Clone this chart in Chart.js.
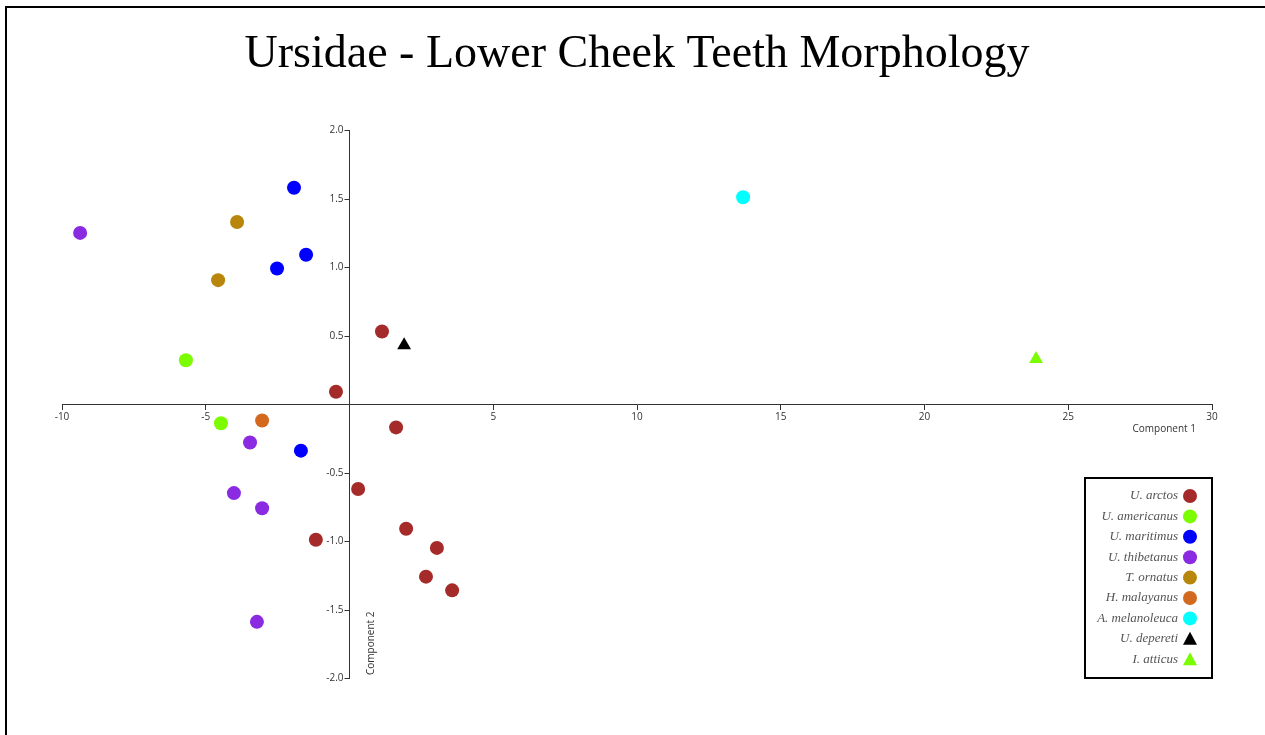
<!DOCTYPE html>
<html>
<head>
<meta charset="utf-8">
<title>Ursidae - Lower Cheek Teeth Morphology</title>
<script src="https://cdn.jsdelivr.net/npm/chart.js@4"></script>
<style>
  html, body { margin: 0; padding: 0; background: #fff; overflow: hidden; }
  #frame { position: absolute; left: 5px; top: 6px; width: 1400px; height: 900px; border: 2px solid #000; }
  #wrap { position: absolute; left: 0; top: 0; width: 1265px; height: 735px; }
</style>
</head>
<body>
<div id="frame"></div>
<div id="wrap"><canvas id="pca" width="1265" height="735"></canvas></div>
<script>
// Component 1 / Component 2 scores per taxon
const arctos = [[1.13, 0.53], [-0.47, 0.09], [1.62, -0.17], [0.30, -0.62], [-1.17, -0.99],
                [1.97, -0.91], [3.04, -1.05], [2.66, -1.26], [3.57, -1.36]];
const americanus = [[-5.69, 0.32], [-4.47, -0.14]];
const maritimus = [[-1.93, 1.58], [-1.51, 1.09], [-2.52, 0.99], [-1.69, -0.34]];
const thibetanus = [[-9.37, 1.25], [-3.46, -0.28], [-4.02, -0.65], [-3.04, -0.76], [-3.22, -1.59]];
const ornatus = [[-3.91, 1.33], [-4.57, 0.905]];
const malayanus = [[-3.04, -0.12]];
const melanoleuca = [[13.69, 1.51]];
const depereti = [[1.90, 0.43]];
const atticus = [[23.88, 0.33]];

const taxa = ['U. arctos', 'U. americanus', 'U. maritimus', 'U. thibetanus', 'T. ornatus',
              'H. malayanus', 'A. melanoleuca', 'U. depereti', 'I. atticus'];
const scores = [arctos, americanus, maritimus, thibetanus, ornatus, malayanus, melanoleuca, depereti, atticus];
const colours = ['#a52a2a', '#7cfc00', '#0000ff', '#8a2be2', '#b8860b', '#d2691e', '#00ffff', '#000000', '#7cfc00'];
const shapes = ['circle', 'circle', 'circle', 'circle', 'circle', 'circle', 'circle', 'triangle', 'triangle'];

const datasets = taxa.map((name, i) => ({
    label: name,
    data: scores[i].map(p => ({x: p[0], y: p[1]})),
    backgroundColor: colours[i],
    borderColor: colours[i],
    borderWidth: 0,
    pointStyle: shapes[i],
    pointRadius: shapes[i] === 'triangle' ? 8 : 7,
    pointHoverRadius: 8
}));

const smallFont = '10px "Open Sans", "DejaVu Sans", sans-serif';

// axis titles, y ticks (chart.js puts them on top of a centred axis) and the key
const extras = {
    id: 'extras',
    afterDraw(chart) {
        const ctx = chart.ctx;
        const area = chart.chartArea;
        const xs = chart.scales.x, ys = chart.scales.y;
        const x0 = xs.getPixelForValue(0);
        const y0 = ys.getPixelForValue(0);
        ctx.save();
        ctx.strokeStyle = '#333';
        ctx.fillStyle = '#333';
        ctx.lineWidth = 1;
        ctx.font = smallFont;
        ctx.textAlign = 'right';
        ctx.textBaseline = 'middle';
        ys.ticks.forEach(t => {
            const py = Math.round(ys.getPixelForValue(t.value)) + 0.5;
            ctx.beginPath();
            ctx.moveTo(x0 - 5, py);
            ctx.lineTo(x0, py);
            ctx.stroke();
            if (t.value !== 0) ctx.fillText(t.value.toFixed(1), x0 - 6, py);
        });
        ctx.fillText('Component 1', area.right - 16, y0 + 25);
        ctx.translate(x0 + 22, area.bottom - 3);
        ctx.rotate(-Math.PI / 2);
        ctx.textAlign = 'left';
        ctx.fillText('Component 2', 0, 0);
        ctx.restore();

        // key
        const boxW = 127, boxH = 200;
        const bx = area.right - boxW, by = area.bottom - boxH;
        ctx.save();
        ctx.fillStyle = '#fff';
        ctx.fillRect(bx, by, boxW, boxH);
        ctx.strokeStyle = '#000';
        ctx.lineWidth = 2;
        ctx.strokeRect(bx, by, boxW, boxH);
        ctx.font = 'italic 13px "Liberation Serif", "Times New Roman", serif';
        ctx.textAlign = 'right';
        ctx.textBaseline = 'middle';
        taxa.forEach((name, i) => {
            const ry = by + 18 + i * 20.4;
            ctx.fillStyle = '#555';
            ctx.fillText(name, bx + 93, ry);
            ctx.fillStyle = colours[i];
            ctx.beginPath();
            if (shapes[i] === 'triangle') {
                ctx.moveTo(bx + 105, ry - 7);
                ctx.lineTo(bx + 112, ry + 6);
                ctx.lineTo(bx + 98, ry + 6);
                ctx.closePath();
            } else {
                ctx.arc(bx + 105, ry, 7, 0, Math.PI * 2);
            }
            ctx.fill();
        });
        ctx.restore();
    }
};

new Chart(document.getElementById('pca').getContext('2d'), {
    type: 'scatter',
    data: {datasets: datasets},
    options: {
        responsive: false,
        animation: false,
        devicePixelRatio: 1,
        layout: {padding: {top: 10, left: 62, right: 53, bottom: 57}},
        plugins: {
            legend: {display: false},
            tooltip: {enabled: true},
            title: {
                display: true,
                text: 'Ursidae - Lower Cheek Teeth Morphology',
                color: '#000',
                font: {family: '"Liberation Serif", "Times New Roman", serif', size: 46, weight: 'normal', lineHeight: 1.2},
                padding: {top: 17, bottom: 48}
            }
        },
        scales: {
            x: {
                type: 'linear',
                position: {y: 0},
                min: -10,
                max: 30,
                border: {color: '#333', width: 1},
                grid: {display: true, drawOnChartArea: false, drawTicks: true, tickLength: 5, color: '#333'},
                ticks: {
                    stepSize: 5,
                    color: '#333',
                    font: {family: '"Open Sans", "DejaVu Sans", sans-serif', size: 10},
                    padding: 2,
                    maxRotation: 0,
                    callback: v => v === 0 ? '' : String(v)
                }
            },
            y: {
                type: 'linear',
                position: {x: 0},
                min: -2,
                max: 2,
                border: {color: '#333', width: 1},
                grid: {display: false},
                ticks: {stepSize: 0.5, display: false}
            }
        }
    },
    plugins: [extras]
});
</script>
</body>
</html>
